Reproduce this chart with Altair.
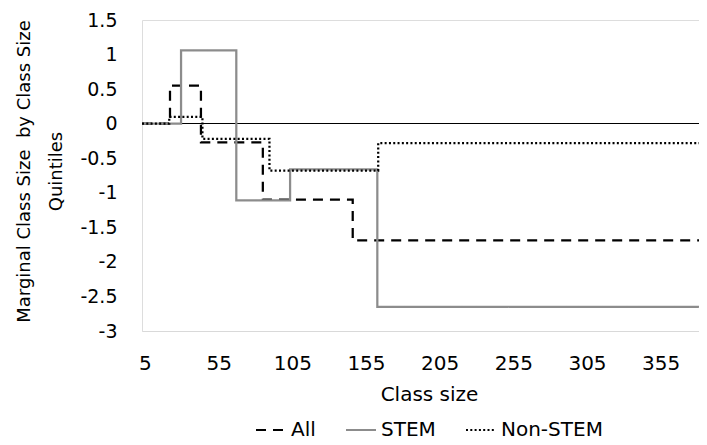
import altair as alt
import pandas as pd

series_names = ["All", "STEM", "Non-STEM"]
series_colors = ["#000000", "#8c8c8c", "#000000"]
series_dashes = [[10, 7], [1, 0], [2, 2.3]]

all_x = [3, 22, 43, 85, 146, 381]
all_y = [0, 0.55, -0.27, -1.10, -1.69, -1.69]
stem_x = [3, 29.5, 67, 103.5, 162.7, 381]
stem_y = [0, 1.06, -1.11, -0.66, -2.65, -2.65]
non_x = [3, 21.5, 44, 89.5, 163.3, 381]
non_y = [0, 0.10, -0.22, -0.68, -0.28, -0.28]

x_ticks = [5, 55, 105, 155, 205, 255, 305, 355]
y_ticks = [-3, -2.5, -2, -1.5, -1, -0.5, 0, 0.5, 1, 1.5]

rows = []
for name, xs, ys in [("All", all_x, all_y), ("STEM", stem_x, stem_y), ("Non-STEM", non_x, non_y)]:
    for i, (xv, yv) in enumerate(zip(xs, ys)):
        rows.append({"series": name, "x": xv, "y": yv, "i": i})
df = pd.DataFrame(rows)

FONT = "DejaVu Sans"

x_axis = alt.Axis(
    values=x_ticks, title="Class size", grid=False, ticks=False,
    domain=True, domainColor="#d9d9d9", domainWidth=1,
    labelFont=FONT, labelFontSize=20, labelColor="#000000",
    labelBaseline="middle", labelPadding=32, labelFlush=False, labelOverlap=False,
    titleFont=FONT, titleFontSize=20, titleFontWeight="normal", titleColor="#000000",
    titleX=287, titleY=63, titleBaseline="middle", titleAlign="center",
)
y_axis = alt.Axis(
    values=y_ticks, title=["Marginal Class Size\u00a0 by Class Size", "Quintiles"],
    grid=False, ticks=False, domain=False, labelOverlap=False,
    labelExpr="datum.value < 0 ? '-' + format(-datum.value, '~g') : format(datum.value, '~g')",
    labelFont=FONT, labelFontSize=19, labelColor="#000000", labelPadding=25,
    titleFont=FONT, titleFontSize=18, titleFontWeight="normal", titleColor="#000000",
    titleAngle=270, titleX=-118, titleY=151, titleBaseline="middle",
    titleAlign="center", titleLineHeight=32,
)
x_scale = alt.Scale(domain=[3, 381], nice=False, zero=False)
y_scale = alt.Scale(domain=[-3, 1.5], nice=False, zero=False)

legend_cfg = dict(
    title=None, orient="none", legendX=113, legendY=394,
    direction="horizontal", symbolType="stroke", symbolSize=900,
    symbolStrokeWidth=2, labelFont=FONT, labelFontSize=20,
    labelColor="#000000", labelOffset=4, columnPadding=26,
)

lines = alt.Chart(df).mark_line(interpolate="step-after", strokeWidth=2.25).encode(
    x=alt.X("x:Q", scale=x_scale, axis=x_axis),
    y=alt.Y("y:Q", scale=y_scale, axis=y_axis),
    color=alt.Color(
        "series:N",
        scale=alt.Scale(domain=series_names, range=series_colors),
        legend=alt.Legend(**legend_cfg),
    ),
    strokeDash=alt.StrokeDash(
        "series:N",
        scale=alt.Scale(domain=series_names, range=series_dashes),
        legend=alt.Legend(**legend_cfg),
    ),
    order="i:Q",
)

zero_df = pd.DataFrame({"y": [0]})
zero_line = alt.Chart(zero_df).mark_rule(color="#000000", strokeWidth=1.2, yOffset=-0.17).encode(
    y=alt.Y("y:Q", scale=y_scale, axis=y_axis)
)

chart = alt.layer(zero_line, lines).properties(
    width=557, height=311,
    autosize=alt.AutoSizeParams(type="none"),
    padding={"left": 134, "top": 12, "right": 0, "bottom": 114},
).configure_view(stroke=None).configure_axis(labelOverlap=False).configure(background="#ffffff")

chart.save("out.html", embed_options={"renderer": "svg", "actions": False})
